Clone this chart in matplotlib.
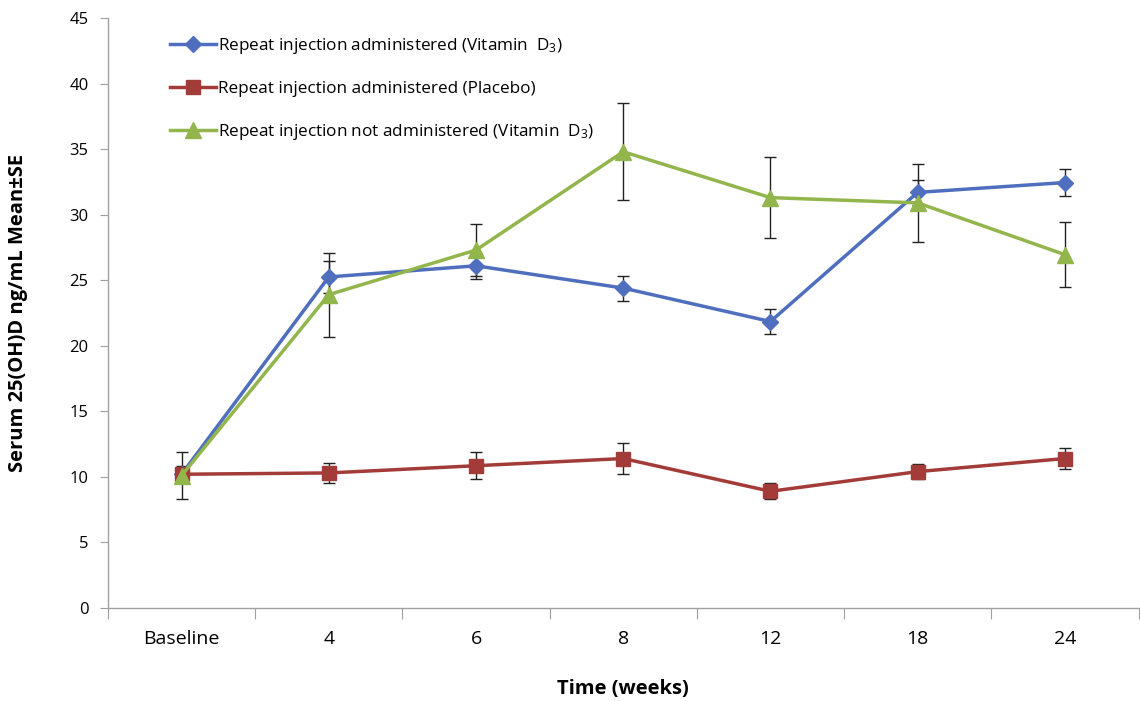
import numpy as np
import matplotlib.pyplot as plt
from matplotlib.ticker import MultipleLocator

plt.rcParams['font.family'] = ['Open Sans', 'DejaVu Sans']
plt.rcParams['mathtext.fontset'] = 'custom'
plt.rcParams['mathtext.rm'] = 'Open Sans'
plt.rcParams['mathtext.it'] = 'Open Sans'

# Data
times = ['Baseline', '4', '6', '8', '12', '18', '24']

vitd_mean = [10.2, 25.25, 26.1, 24.4, 21.85, 31.7, 32.45]
vitd_se = [0.65, 1.2, 1.0, 0.95, 0.95, 0.95, 1.0]

placebo_mean = [10.2, 10.3, 10.85, 11.4, 8.9, 10.4, 11.4]
placebo_se = [0.5, 0.75, 1.05, 1.15, 0.6, 0.6, 0.8]

noinj_mean = [10.1, 23.9, 27.3, 34.8, 31.3, 30.9, 26.95]
noinj_se = [1.8, 3.2, 2.0, 3.7, 3.1, 3.0, 2.5]

labels = ['Repeat injection administered (Vitamin  D$_3$)',
          'Repeat injection administered (Placebo)',
          'Repeat injection not administered (Vitamin  D$_3$)']

x = np.arange(len(times))

fig = plt.figure(figsize=(11.4, 7.01), dpi=100)
ax = fig.add_axes([0.0947, 0.1327, 0.904, 0.8416])

series = [
    (vitd_mean, vitd_se, '#4F6FBE', 'D', 8),
    (placebo_mean, placebo_se, '#A33B38', 's', 10),
    (noinj_mean, noinj_se, '#92B54C', '^', 11),
]
for (m, se, col, mk, ms), lab in zip(series, labels):
    ax.errorbar(x, m, yerr=se, fmt='none', ecolor='#222222', elinewidth=1.0,
                capsize=4, capthick=1.0, zorder=2)
    ax.plot(x, m, color=col, marker=mk, markersize=ms, linewidth=2.5,
            label=lab, zorder=3)

ax.set_xlim(-0.5, 6.5)
ax.set_ylim(0, 45)
ax.yaxis.set_major_locator(MultipleLocator(5))

ax.set_xticks(np.arange(-0.5, 7, 1))
ax.set_xticklabels([])
ax.set_xticks(x, minor=True)
ax.set_xticklabels(times, minor=True)
ax.tick_params(axis='x', which='major', length=8, color='#A0A0A0', direction='out')
ax.tick_params(axis='x', which='minor', length=0, pad=16, labelsize=14)
ax.tick_params(axis='y', length=6, color='#A0A0A0', labelsize=12, pad=8)

for s in ['top', 'right']:
    ax.spines[s].set_visible(False)
for s in ['left', 'bottom']:
    ax.spines[s].set_color('#A0A0A0')
    ax.spines[s].set_linewidth(1.0)

ax.set_xlabel('Time (weeks)', fontsize=14.5, fontweight='bold', labelpad=22)
ax.set_ylabel('Serum 25(OH)D ng/mL Mean±SE', fontsize=14.5, fontweight='bold', labelpad=30)

ax.legend(loc='upper left', bbox_to_anchor=(0.045, 0.995), frameon=False,
          fontsize=12.3, handlelength=2.7, handletextpad=0.1, labelspacing=1.45)

fig.savefig('out.png', dpi=100)
